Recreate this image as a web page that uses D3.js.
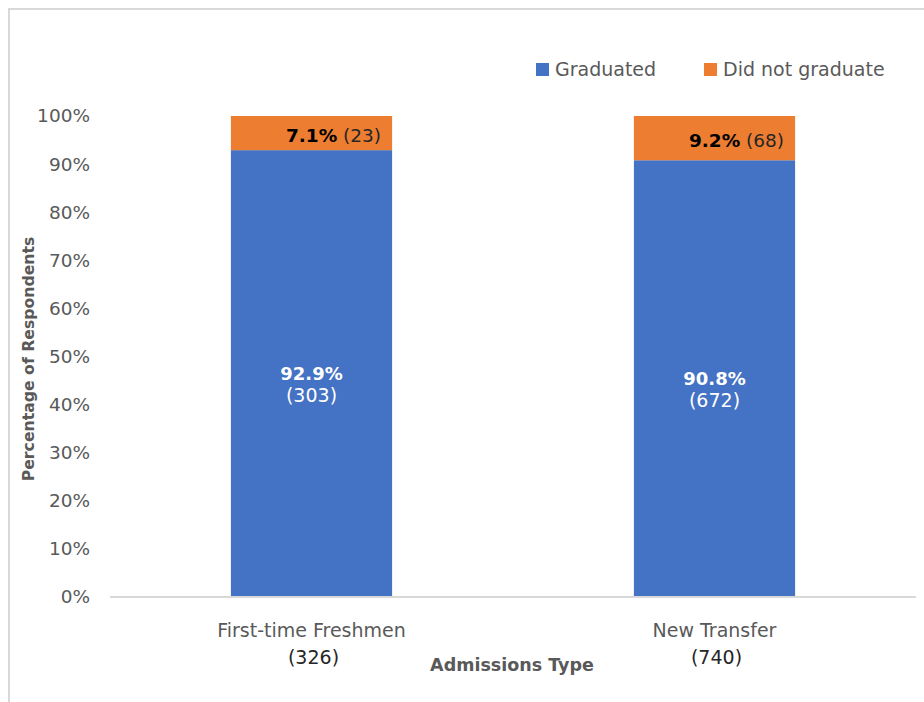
<!DOCTYPE html>
<html><head><meta charset="utf-8">
<script src="https://cdn.jsdelivr.net/npm/d3@7"></script>
<style>
body{margin:0;background:#fff;}
svg{display:block;font-family:"DejaVu Sans",sans-serif;}
</style></head>
<body>
<svg id="chart" width="924" height="702"></svg>
<script>
const categories = ["First-time Freshmen", "New Transfer"];
const categoryTotals = ["(326)", "(740)"];
const seriesNames = ["Graduated", "Did not graduate"];
const graduatedPct = [92.9, 90.8];
const notGraduatedPct = [7.1, 9.2];
const graduatedCount = [303, 672];
const notGraduatedCount = [23, 68];
const yTicks = [0, 10, 20, 30, 40, 50, 60, 70, 80, 90, 100];
const colors = ["#4472C4", "#ED7D31"];

const svg = d3.select("#chart");
const FONT = '"DejaVu Sans",sans-serif';
// outer frame
svg.append("rect").attr("x", 9).attr("y", 9).attr("width", 940).attr("height", 720)
  .attr("fill", "none").attr("stroke", "#d9d9d9").attr("stroke-width", 2);

const x0 = 110, x1 = 916, yBottom = 597, yTop = 116;
const x = d3.scaleBand().domain(categories).range([x0, x1]).paddingInner(0.6).paddingOuter(0.3);
const y = d3.scaleLinear().domain([0, 100]).range([yBottom, yTop]);

// y axis ticks
const yAxis = d3.axisLeft(y).tickValues(yTicks).tickFormat(d => d + "%").tickSize(0).tickPadding(20);
const gy = svg.append("g").attr("transform", `translate(${x0},0)`).call(yAxis);
gy.select(".domain").remove();
gy.selectAll("text").attr("font-size", 18.5).attr("fill", "#595959").attr("font-family", FONT);

// stacked data
const rows = categories.map((c, i) => ({cat: c, g: graduatedPct[i], n: notGraduatedPct[i], gc: graduatedCount[i], nc: notGraduatedCount[i]}));
const stack = d3.stack().keys(["g", "n"])(rows);

stack.forEach((layer, li) => {
  svg.append("g").selectAll("rect").data(layer).join("rect")
    .attr("x", d => x(d.data.cat))
    .attr("width", x.bandwidth())
    .attr("y", d => y(Math.min(d[1], 100)))
    .attr("height", d => y(d[0]) - y(Math.min(d[1], 100)))
    .attr("fill", colors[li]);
});

// baseline
svg.append("line").attr("x1", x0).attr("x2", x1).attr("y1", yBottom).attr("y2", yBottom)
  .attr("stroke", "#d9d9d9").attr("stroke-width", 2);

rows.forEach((d, i) => {
  const cx = x(d.cat) + x.bandwidth() / 2;
  const cy = y(d.g / 2);
  svg.append("text").attr("x", cx).attr("y", cy + 6.5).attr("text-anchor", "middle")
    .attr("font-size", 18).attr("font-weight", "bold").attr("fill", "#fff").text(d.g.toFixed(1) + "%");
  svg.append("text").attr("x", cx).attr("y", cy + 28).attr("text-anchor", "middle")
    .attr("font-size", 19).attr("fill", "#fff").text("(" + d.gc + ")");
  // top label
  const ty = y(d.g + d.n / 2) + 8.5;
  const t = svg.append("text").attr("x", x(d.cat) + x.bandwidth() - 11).attr("y", ty)
    .attr("text-anchor", "end").attr("font-size", 18.5).attr("fill", "#000");
  t.append("tspan").attr("font-weight", "bold").text(d.n.toFixed(1) + "%");
  t.append("tspan").attr("fill", "#262626").text(" (" + d.nc + ")");
  // category labels
  svg.append("text").attr("x", cx).attr("y", 637).attr("text-anchor", "middle")
    .attr("font-size", 19).attr("fill", "#595959").text(d.cat);
  svg.append("text").attr("x", cx + 2).attr("y", 664).attr("text-anchor", "middle")
    .attr("font-size", 19).attr("fill", "#262626").text(categoryTotals[i]);
});

// axis titles
svg.append("text").attr("transform", "translate(34,359) rotate(-90)").attr("text-anchor", "middle")
  .attr("font-size", 15.7).attr("font-weight", "bold").attr("fill", "#595959").text("Percentage of Respondents");
svg.append("text").attr("x", 512).attr("y", 671).attr("text-anchor", "middle")
  .attr("font-size", 17.5).attr("font-weight", "bold").attr("fill", "#595959").text("Admissions Type");

// legend
const legendX = [536, 704];
seriesNames.forEach((s, i) => {
  svg.append("rect").attr("x", legendX[i]).attr("y", 63).attr("width", 13).attr("height", 13).attr("fill", colors[i]);
  svg.append("text").attr("x", legendX[i] + 19).attr("y", 76).attr("font-size", 19).attr("fill", "#595959").text(s);
});
</script>
</body></html>
